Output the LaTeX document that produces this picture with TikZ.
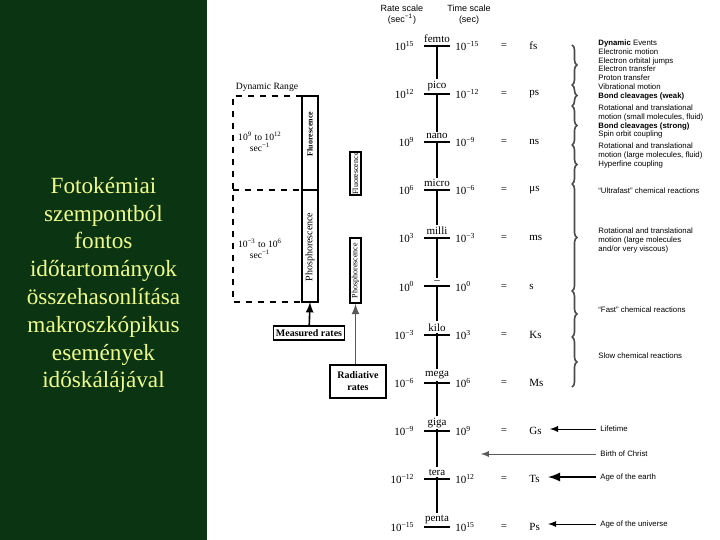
\documentclass[tikz,border=0pt]{standalone}
\usepackage{fontspec}
\setmainfont{Liberation Serif}
\setsansfont{Liberation Sans}
\usetikzlibrary{decorations.pathreplacing}
\definecolor{slidegreen}{RGB}{10,52,18}
\definecolor{slideyellow}{RGB}{238,250,140}
\tikzset{
  sclabel/.style={font=\fontsize{5.5}{6.5}\selectfont,inner sep=1pt},
  evtext/.style={font=\sffamily\fontsize{3.9}{4.4}\selectfont,align=left,anchor=north west,inner sep=0pt},
  ratebox/.style={draw,thick,font=\fontsize{5}{6}\selectfont\bfseries,align=center,inner sep=1pt},
  emitbox/.style={draw,thick,rotate=90,font=\fontsize{4}{5}\selectfont,inner sep=0pt,minimum height=5.5pt},
  grp/.style={decorate,decoration={brace,amplitude=2.5pt},gray!60!black,thick}
}
\begin{document}
\begin{tikzpicture}[x=0.5pt,y=-0.5pt,>=latex]
	\useasboundingbox (0,0) rectangle (720,540);
	\fill[slidegreen] (0,0) rectangle (207,540);
	\node[text=slideyellow,align=center,font=\fontsize{11.6}{13.9}\selectfont] (title) at (103.5,285) {Fotokémiai\\szempontból\\fontos\\időtartományok\\összehasonlítása\\makroszkópikus\\események\\időskálájával};
	% rate and time scales
	\node[font=\sffamily\fontsize{4.5}{5.5}\selectfont,align=center] (ratehd) at (402,15) {Rate scale\\(sec\textsuperscript{−1})};
	\node[font=\sffamily\fontsize{4.5}{5.5}\selectfont,align=center] (timehd) at (469,15) {Time scale\\(sec)};
	\foreach \i in {0,...,10}{\coordinate (tick\i) at (437,46+48.1*\i);}
	\draw[thick] (tick0) -- (tick10);
	\foreach \pre/\r/\t/\u [count=\i from 0] in {femto/15/−15/fs,pico/12/−12/ps,nano/9/−9/ns,micro/6/−6/μs,milli/3/−3/ms,--/0/0/s,kilo/−3/3/Ks,mega/−6/6/Ms,giga/−9/9/Gs,tera/−12/12/Ts,penta/−15/15/Ps}{
		\draw[line width=1pt] ([xshift=-6.5pt]tick\i) -- ([xshift=6.5pt]tick\i);
		\node[sclabel,above,fill=white] (pre\i) at ([yshift=0.5pt]tick\i) {\pre};
		\node[sclabel,anchor=east] (rate\i) at (417,46+48.1*\i) {10\textsuperscript{\r}};
		\node[sclabel,anchor=west] (time\i) at (453,46+48.1*\i) {10\textsuperscript{\t}};
		\node[sclabel] (eq\i) at (504,46+48.1*\i) {=};
		\node[sclabel,anchor=west] (unit\i) at (527,46+48.1*\i) {\u};
	}
	% dynamic events
	\foreach \a/\b in {45/85,85/106,106/145,145/184,184/291,291/337,337/387}{\draw[grp] (572,\a) -- (572,\b);}
	\node[evtext] (ev1) at (598,39.5) {\textbf{Dynamic} Events\\Electronic motion\\Electron orbital jumps\\Electron transfer\\Proton transfer\\Vibrational motion\\\textbf{Bond cleavages (weak)}};
	\node[evtext] (ev2) at (598,104.5) {Rotational and translational\\motion (small molecules, fluid)\\\textbf{Bond cleavages (strong)}\\Spin orbit coupling};
	\node[evtext] (ev3) at (598,142.5) {Rotational and translational\\motion (large molecules, fluid)\\Hyperfine coupling};
	\node[evtext] (ev4) at (598,187.5) {“Ultrafast” chemical reactions};
	\node[evtext] (ev5) at (598,227.5) {Rotational and translational\\motion (large molecules\\and/or very viscous)};
	\node[evtext] (ev6) at (598,306.5) {“Fast” chemical reactions};
	\node[evtext] (ev7) at (598,352.5) {Slow chemical reactions};
	\node[evtext,anchor=west] (life) at (600,429) {Lifetime};
	\node[evtext,anchor=west] (christ) at (600,454) {Birth of Christ};
	\node[evtext,anchor=west] (earth) at (600,477) {Age of the earth};
	\node[evtext,anchor=west] (univ) at (600,524) {Age of the universe};
	\coordinate (bc) at (481,454);
	\draw[->,shorten <=2pt,shorten >=3pt] (life.west) -- (unit8.east |- life.west);
	\draw[->,gray!70!black,shorten <=2pt] (christ.west) -- (bc);
	\draw[->,line width=1.1pt,shorten <=2pt,shorten >=3pt] (earth.west) -- (unit9.east |- earth.west);
	\draw[->,shorten <=2pt,shorten >=3pt] (univ.west) -- (unit10.east |- univ.west);
	% dynamic range
	\node[font=\fontsize{4.8}{5.5}\selectfont] (dynrange) at (267,87) {Dynamic Range};
	\draw[dashed,thick] (302,96) -- (233,96) -- (233,302) -- (302,302) (233,190) -- (302,190);
	\draw[thick] (302,96) rectangle (318,302) (302,190) -- (318,190);
	\node[font=\fontsize{4.8}{5.5}\selectfont,align=center] (fastrng) at (260,142) {10\textsuperscript{9} to 10\textsuperscript{12}\\sec\textsuperscript{−1}};
	\node[font=\fontsize{4.8}{5.5}\selectfont,align=center] (slowrng) at (260,249) {10\textsuperscript{−3} to 10\textsuperscript{6}\\sec\textsuperscript{−1}};
	\node[rotate=90,font=\fontsize{4}{5}\selectfont\bfseries] (fluorcol) at (310,134) {Fluorescence};
	\node[rotate=90,font=\fontsize{5}{6}\selectfont] (phoscol) at (310,247) {Phosphorescence};
	\coordinate (colbot) at (310,302);
	\node[ratebox,minimum width=35.5pt,minimum height=7pt] (measured) at (309,333) {Measured rates};
	\draw[->,thick] (measured) -- (colbot);
	\node[emitbox,minimum width=21.5pt] (fluorbox) at (355.5,173.5) {Fluorescence};
	\node[emitbox,minimum width=32.5pt] (phosbox) at (355.5,270.5) {Phosphorescence};
	\node[ratebox,minimum width=28pt,minimum height=16.5pt] (radiative) at (358,381.5) {Radiative\\rates};
	\draw[->,thick,gray!70!black] (radiative.north -| phosbox.west) -- (phosbox.west);
\end{tikzpicture}
\end{document}
